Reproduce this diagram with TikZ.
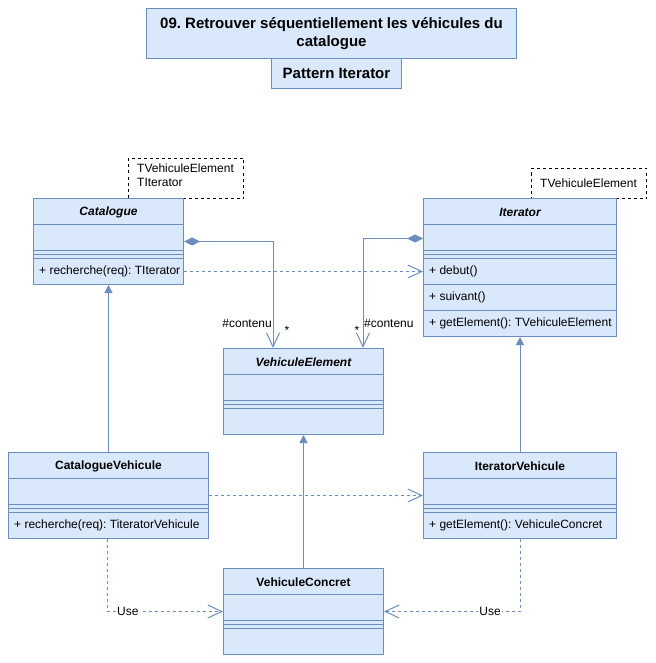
\documentclass[tikz,border=0pt]{standalone}
\usepackage{fontspec}
\setmainfont{Liberation Sans}
\usetikzlibrary{arrows.meta}
\definecolor{cfill}{HTML}{DAE8FC}
\definecolor{cline}{HTML}{6C8EBF}
\frenchspacing
\tikzset{
  cell/.style={draw=cline, fill=cfill, line width=1pt, minimum height=26pt, inner sep=0pt, anchor=north west},
  txt/.style={inner sep=0pt, font=\fontsize{12}{14}\selectfont, text=black},
  headtxt/.style={txt, font=\fontsize{12}{14}\selectfont\bfseries},
  abstxt/.style={txt, font=\fontsize{12}{14}\selectfont\bfseries\itshape},
  tmpl/.style={draw=black, dashed, dash pattern=on 3pt off 3pt, fill=white, line width=1pt, anchor=north west, inner sep=0pt},
  titlebox/.style={draw=cline, fill=cfill, line width=1pt, anchor=north west, inner sep=0pt, align=center, font=\fontsize{15}{18}\selectfont\bfseries},
  conn/.style={draw=cline, line width=1pt},
  dep/.style={conn, dash pattern=on 3pt off 3pt},
  openhead/.style={-{Straight Barb[length=14pt,width=13pt,line width=1pt]}},
  comp/.style={conn, {Diamond[length=16pt,width=8pt,fill=cline]}-{Straight Barb[length=14pt,width=13pt,line width=1pt]}},
  inherit/.style={conn, -{Triangle[length=8pt,width=8pt,fill=cline]}},
  lbl/.style={txt, fill=white, inner xsep=1pt},
}
% name x y w text
\newcommand\chead[6]{\node[cell, minimum width=#4] (#1) at (#2,#3) {};
  \node[#6] (#1t) at ([yshift=-1pt]#1.center) {#5};}
\newcommand\crow[5]{\node[cell, minimum width=#4] (#1) at (#2,#3) {};
  \node[txt, anchor=west] (#1t) at ([xshift=6pt]#1.west) {#5};}
\newcommand\cempty[4]{\node[cell, minimum width=#4] (#1) at (#2,#3) {};}
\newcommand\cdiv[4]{\node[cell, minimum width=#4, minimum height=8pt] (#1) at (#2,#3) {};
  \draw[cline, line width=1pt] (#1.west) -- (#1.east);}
\begin{document}
\begin{tikzpicture}[x=1pt,y=-1pt]
\useasboundingbox[fill=white] (0,0) rectangle (655,663);

% titles
\node[titlebox, minimum width=370, minimum height=50] (title) at (146,8)
  {09. Retrouver séquentiellement les véhicules du\\catalogue};
\node[titlebox, minimum width=130, minimum height=30] (sub) at (271,58) {Pattern Iterator};

% template boxes
\node[tmpl, minimum width=115, minimum height=40] (catT) at (128,158) {};
\node[txt, anchor=north west, align=left] (catTt) at (137,164) {TVehiculeElement\\TIterator};
\node[tmpl, minimum width=115, minimum height=30] (itT) at (531,168) {};
\node[txt, anchor=west] (itTt) at (540,183) {TVehiculeElement};

% Catalogue
\chead{catH}{33}{198}{150}{Catalogue}{abstxt}
\cempty{catA}{33}{224}{150}
\cdiv{catD}{33}{250}{150}
\crow{catM}{33}{258}{150}{+ recherche(req): TIterator}

% Iterator
\chead{itH}{423}{198}{193}{Iterator}{abstxt}
\cempty{itA}{423}{224}{193}
\cdiv{itD}{423}{250}{193}
\crow{itM1}{423}{258}{193}{+ debut()}
\crow{itM2}{423}{284}{193}{+ suivant()}
\crow{itM3}{423}{310}{193}{+ getElement(): TVehiculeElement}

% VehiculeElement
\chead{veH}{223}{348}{160}{VehiculeElement}{abstxt}
\cempty{veA}{223}{374}{160}
\cdiv{veD}{223}{400}{160}
\cempty{veM}{223}{408}{160}

% CatalogueVehicule
\chead{cvH}{8}{452}{200}{CatalogueVehicule}{headtxt}
\cempty{cvA}{8}{478}{200}
\cdiv{cvD}{8}{504}{200}
\crow{cvM}{8}{512}{200}{+ recherche(req): TiteratorVehicule}

% IteratorVehicule
\chead{ivH}{423}{452}{193}{IteratorVehicule}{headtxt}
\cempty{ivA}{423}{478}{193}
\cdiv{ivD}{423}{504}{193}
\crow{ivM}{423}{512}{193}{+ getElement(): VehiculeConcret}

% VehiculeConcret
\chead{vcH}{223}{568}{160}{VehiculeConcret}{headtxt}
\cempty{vcA}{223}{594}{160}
\cdiv{vcD}{223}{620}{160}
\cempty{vcM}{223}{628}{160}

% compositions
\draw[comp] ([yshift=-4pt]catA.east) -| ([xshift=50pt]veH.north west);
\draw[comp] ([yshift=-1pt]itA.west) -| ([xshift=140pt]veH.north west);
\node[txt, anchor=east] (l1) at (272,323) {\#contenu};
\node[txt] (s1) at (287,330) {*};
\node[txt] (s2) at (357,330) {*};
\node[txt, anchor=west] (l2) at (364,323) {\#contenu};

% dependencies
\draw[dep, openhead] (catM.east) -- (catM.east -| itM1.west);
\draw[dep, openhead] ([yshift=-4pt]cvA.east) -- ([yshift=-4pt]ivA.west);

% inheritance
\draw[inherit] (cvH.north) -- (catM.south);
\draw[inherit] (ivH.north) -- (itM3.south);
\draw[inherit] (vcH.north) -- (veM.south);

% use
\coordinate (u1) at ([xshift=-1.5pt]cvM.south);
\coordinate (u2) at (ivM.south);
\draw[dep, openhead] (u1) |- ([yshift=-4pt]vcA.west) node[lbl, pos=0.59] (use1) {Use};
\draw[dep, openhead] (u2) |- ([yshift=-4pt]vcA.east) node[lbl, pos=0.61] (use2) {Use};
\end{tikzpicture}
\end{document}
